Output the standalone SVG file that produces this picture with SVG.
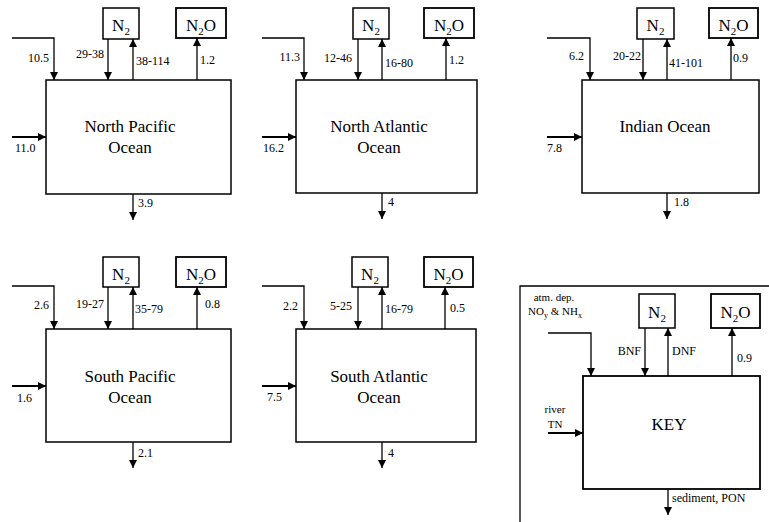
<svg xmlns="http://www.w3.org/2000/svg" width="769" height="522" viewBox="0 0 769 522" font-family="'Liberation Serif', 'DejaVu Serif', 'Times New Roman', serif">
<style>
.bx{fill:#fff;stroke:#000;stroke-width:1.5}
.gb{fill:#fff;stroke:#000;stroke-width:1.8}
.ln{fill:none;stroke:#000;stroke-width:1.3}
.rv{fill:none;stroke:#000;stroke-width:2}
text{font-family:'Liberation Serif','DejaVu Serif','Times New Roman',serif;fill:#000}
.nm{font-size:12px}
.ttl{font-size:17px;text-anchor:middle}
.gas{font-size:17px;text-anchor:middle}
.sub{font-size:11px}
.e{text-anchor:end}
.m{text-anchor:middle}
.k{font-size:11px}
</style>
<defs>
<marker id="ah" markerUnits="userSpaceOnUse" viewBox="0 0 8 8" markerWidth="8" markerHeight="8" refX="8" refY="4" orient="auto">
<path d="M0,0 L8,4 L0,8 z" fill="#000"/>
</marker>
</defs>

<g id="connectors" marker-end="url(#ah)">
<path class="ln" d="M12,38 H54 V80"/>
<path class="ln" d="M108,39 V80"/>
<path class="ln" d="M133,80 V39"/>
<path class="ln" d="M197,80 V38"/>
<path class="rv" d="M12,137 H46"/>
<path class="ln" d="M133,194 V220"/>
<path class="ln" d="M262,38 H304 V80"/>
<path class="ln" d="M358,39 V80"/>
<path class="ln" d="M382,80 V39"/>
<path class="ln" d="M446,80 V38"/>
<path class="rv" d="M262,137 H296"/>
<path class="ln" d="M382,193 V219"/>
<path class="ln" d="M547,38 H590 V80"/>
<path class="ln" d="M643,39 V80"/>
<path class="ln" d="M667,80 V39"/>
<path class="ln" d="M731,80 V38"/>
<path class="rv" d="M547,137 H582"/>
<path class="ln" d="M667,193 V219"/>
<path class="ln" d="M12,286 H54 V329"/>
<path class="ln" d="M108,287 V329"/>
<path class="ln" d="M133,329 V287"/>
<path class="ln" d="M197,329 V287"/>
<path class="rv" d="M12,386 H46"/>
<path class="ln" d="M133,442 V468"/>
<path class="ln" d="M262,286 H304 V329"/>
<path class="ln" d="M358,287 V329"/>
<path class="ln" d="M382,329 V287"/>
<path class="ln" d="M445,329 V287"/>
<path class="rv" d="M262,386 H296"/>
<path class="ln" d="M382,442 V468"/>
<path class="ln" d="M548,333 H591 V376"/>
<path class="ln" d="M645,328 V376"/>
<path class="ln" d="M668,376 V328"/>
<path class="ln" d="M732,376 V328"/>
<path class="rv" d="M548,433 H583"/>
<path class="ln" d="M668,489 V515"/>
</g>

<g id="north-pacific">
<rect class="bx" x="46" y="80" width="185" height="114"/>
<text class="ttl" x="130" y="132">North Pacific</text>
<text class="ttl" x="130" y="153">Ocean</text>
<text class="nm e" x="49" y="62">10.5</text>
<text class="nm e" x="104" y="58">29-38</text>
<text class="nm" x="136" y="65">38-114</text>
<text class="nm" x="200" y="64">1.2</text>
<text class="nm" x="15" y="152">11.0</text>
<text class="nm" x="138" y="207">3.9</text>
</g>
<g id="np-n2"><rect class="bx" x="103" y="8" width="36" height="31"/><text class="gas" x="121" y="31">N<tspan class="sub" dy="4">2</tspan></text></g>
<g id="np-n2o"><rect class="gb" x="176" y="8" width="50" height="30"/><text class="gas" x="201" y="31">N<tspan class="sub" dy="4">2</tspan><tspan dy="-4">O</tspan></text></g>

<g id="north-atlantic">
<rect class="bx" x="296" y="80" width="181" height="113"/>
<text class="ttl" x="379" y="132">North Atlantic</text>
<text class="ttl" x="379" y="153">Ocean</text>
<text class="nm e" x="300" y="61">11.3</text>
<text class="nm e" x="352" y="62">12-46</text>
<text class="nm" x="385" y="67">16-80</text>
<text class="nm" x="449" y="64">1.2</text>
<text class="nm" x="263" y="152">16.2</text>
<text class="nm" x="388" y="206">4</text>
</g>
<g id="na-n2"><rect class="bx" x="353" y="8" width="36" height="31"/><text class="gas" x="371" y="31">N<tspan class="sub" dy="4">2</tspan></text></g>
<g id="na-n2o"><rect class="gb" x="424" y="8" width="50" height="30"/><text class="gas" x="449" y="31">N<tspan class="sub" dy="4">2</tspan><tspan dy="-4">O</tspan></text></g>

<g id="indian">
<rect class="bx" x="582" y="80" width="177" height="113"/>
<text class="ttl" x="665" y="132">Indian Ocean</text>
<text class="nm e" x="584" y="60">6.2</text>
<text class="nm e" x="641" y="60">20-22</text>
<text class="nm" x="669" y="67">41-101</text>
<text class="nm" x="733" y="62">0.9</text>
<text class="nm" x="547" y="152">7.8</text>
<text class="nm" x="674" y="206">1.8</text>
</g>
<g id="in-n2"><rect class="bx" x="637" y="8" width="37" height="31"/><text class="gas" x="655.5" y="31">N<tspan class="sub" dy="4">2</tspan></text></g>
<g id="in-n2o"><rect class="gb" x="709" y="8" width="49" height="30"/><text class="gas" x="733.5" y="31">N<tspan class="sub" dy="4">2</tspan><tspan dy="-4">O</tspan></text></g>

<g id="south-pacific">
<rect class="bx" x="46" y="329" width="185" height="113"/>
<text class="ttl" x="130" y="382">South Pacific</text>
<text class="ttl" x="130" y="403">Ocean</text>
<text class="nm e" x="49" y="309">2.6</text>
<text class="nm e" x="104" y="308">19-27</text>
<text class="nm" x="135" y="313">35-79</text>
<text class="nm" x="205" y="308">0.8</text>
<text class="nm" x="17" y="402">1.6</text>
<text class="nm" x="138" y="457">2.1</text>
</g>
<g id="sp-n2"><rect class="bx" x="103" y="257" width="36" height="30"/><text class="gas" x="121" y="280">N<tspan class="sub" dy="4">2</tspan></text></g>
<g id="sp-n2o"><rect class="gb" x="176" y="257" width="50" height="30"/><text class="gas" x="201" y="280">N<tspan class="sub" dy="4">2</tspan><tspan dy="-4">O</tspan></text></g>

<g id="south-atlantic">
<rect class="bx" x="296" y="329" width="180" height="113"/>
<text class="ttl" x="379" y="382">South Atlantic</text>
<text class="ttl" x="379" y="403">Ocean</text>
<text class="nm e" x="298" y="310">2.2</text>
<text class="nm e" x="352" y="310">5-25</text>
<text class="nm" x="385" y="313">16-79</text>
<text class="nm" x="450" y="312">0.5</text>
<text class="nm" x="267" y="401">7.5</text>
<text class="nm" x="388" y="457">4</text>
</g>
<g id="sa-n2"><rect class="bx" x="352" y="257" width="36" height="30"/><text class="gas" x="370" y="280">N<tspan class="sub" dy="4">2</tspan></text></g>
<g id="sa-n2o"><rect class="gb" x="424" y="257" width="49" height="30"/><text class="gas" x="448.5" y="280">N<tspan class="sub" dy="4">2</tspan><tspan dy="-4">O</tspan></text></g>

<g id="key">
<path class="ln" d="M769,286 H520 V522"/>
<rect class="gb" x="583" y="376" width="177" height="113"/>
<text class="ttl" x="669" y="430">KEY</text>
<text class="k m" x="554" y="301">atm. dep.</text>
<text class="k m" x="555" y="315">NO<tspan font-size="8" dy="3">y</tspan><tspan dy="-3"> &amp; NH</tspan><tspan font-size="8" dy="3">x</tspan></text>
<text class="nm e" x="641" y="355">BNF</text>
<text class="nm" x="672" y="355">DNF</text>
<text class="nm" x="737" y="362">0.9</text>
<text class="k m" x="555" y="413">river</text>
<text class="k m" x="555" y="428">TN</text>
<text class="nm" x="672" y="502">sediment, PON</text>
</g>
<g id="key-n2"><rect class="bx" x="639" y="294" width="36" height="34"/><text class="gas" x="657" y="318">N<tspan class="sub" dy="4">2</tspan></text></g>
<g id="key-n2o"><rect class="gb" x="711" y="294" width="49" height="34"/><text class="gas" x="735.5" y="318">N<tspan class="sub" dy="4">2</tspan><tspan dy="-4">O</tspan></text></g>
</svg>
